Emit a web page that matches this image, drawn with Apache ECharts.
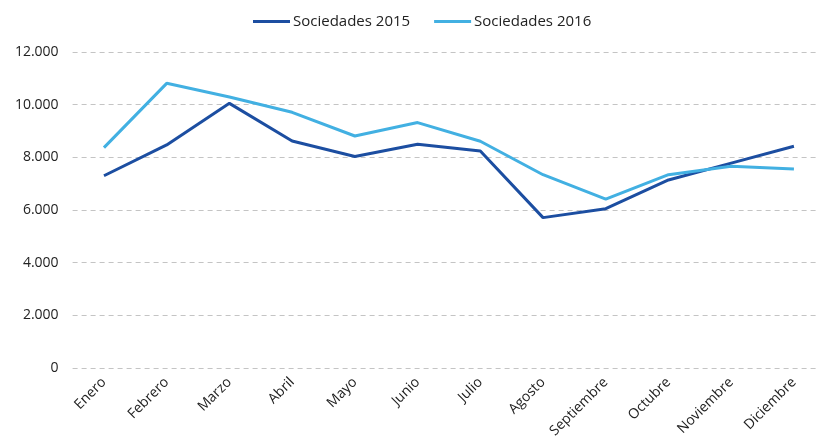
<!DOCTYPE html>
<html>
<head>
<meta charset="utf-8">
<script src="https://cdn.jsdelivr.net/npm/echarts@6/dist/echarts.min.js"></script>
<style>
  html, body { margin: 0; padding: 0; background: #fff; }
  #chart { width: 816px; height: 439px; }
</style>
</head>
<body>
<div id="chart"></div>
<script>
var meses = ['Enero', 'Febrero', 'Marzo', 'Abril', 'Mayo', 'Junio', 'Julio', 'Agosto', 'Septiembre', 'Octubre', 'Noviembre', 'Diciembre'];
var sociedades2015 = [7300, 8470, 10050, 8620, 8030, 8500, 8240, 5710, 6050, 7140, 7780, 8420];
var sociedades2016 = [8370, 10810, 10290, 9710, 8810, 9320, 8610, 7340, 6410, 7340, 7660, 7560];

var chart = echarts.init(document.getElementById('chart'));

function puntos(v) {
  return String(v).replace(/\B(?=(\d{3})+(?!\d))/g, '.');
}

chart.setOption({
  animation: false,
  textStyle: { fontFamily: 'Open Sans' },
  legend: {
    top: 9,
    left: 248,
    icon: 'rect',
    itemWidth: 37,
    itemHeight: 3,
    itemGap: 24,
    textStyle: { fontSize: 15, color: '#222', padding: [0, 0, 0, -2] },
    data: ['Sociedades 2015', 'Sociedades 2016']
  },
  grid: { left: 72.6, width: 752.7, top: 52, bottom: 71, outerBoundsMode: 'none' },
  xAxis: {
    type: 'category',
    data: meses,
    axisLine: { show: false },
    axisTick: { show: false },
    axisLabel: { rotate: 45, fontSize: 14, color: '#222', margin: 12, interval: 0 }
  },
  yAxis: {
    type: 'value',
    min: 0,
    max: 12000,
    interval: 2000,
    axisLine: { show: false },
    axisTick: { show: false },
    axisLabel: { fontSize: 14, color: '#222', margin: 14, formatter: puntos },
    splitLine: { lineStyle: { color: '#c4c4c4', type: [5, 4], width: 1 } }
  },
  series: [
    {
      name: 'Sociedades 2015',
      type: 'line',
      data: sociedades2015,
      symbol: 'none',
      itemStyle: { color: '#1c4ea1' },
      lineStyle: { color: '#1c4ea1', width: 3 }
    },
    {
      name: 'Sociedades 2016',
      type: 'line',
      data: sociedades2016,
      symbol: 'none',
      itemStyle: { color: '#42b0e2' },
      lineStyle: { color: '#42b0e2', width: 3 }
    }
  ]
});
</script>
</body>
</html>
